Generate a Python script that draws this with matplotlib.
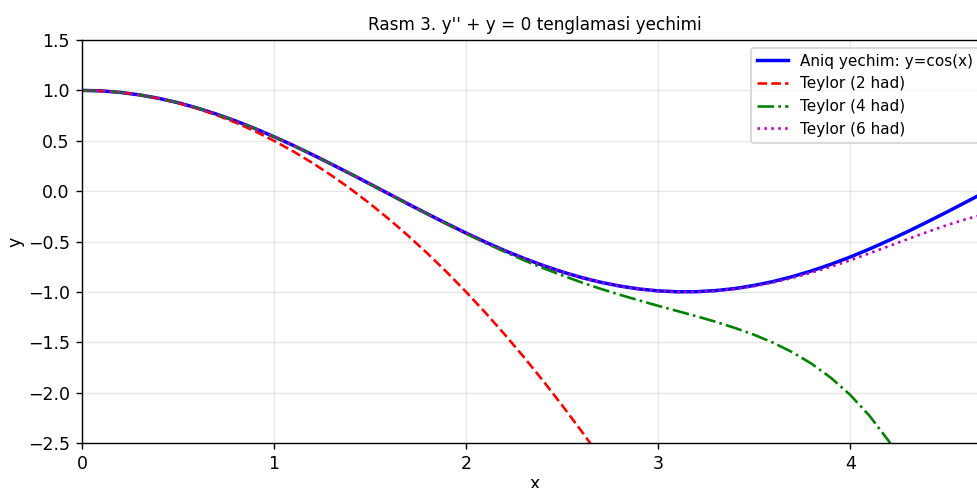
import numpy as np
import matplotlib.pyplot as plt

# x values (step 0.1) and curves
x_vals = [0.0, 0.1, 0.2, 0.3, 0.4, 0.5, 0.6, 0.7, 0.8, 0.9,
          1.0, 1.1, 1.2, 1.3, 1.4, 1.5, 1.6, 1.7, 1.8, 1.9,
          2.0, 2.1, 2.2, 2.3, 2.4, 2.5, 2.6, 2.7, 2.8, 2.9,
          3.0, 3.1, 3.2, 3.3, 3.4, 3.5, 3.6, 3.7, 3.8, 3.9,
          4.0, 4.1, 4.2, 4.3, 4.4, 4.5, 4.6, 4.7]

y_exact = [1.000, 0.995, 0.980, 0.955, 0.921, 0.878, 0.825, 0.765, 0.697, 0.622,
           0.540, 0.454, 0.362, 0.267, 0.170, 0.071, -0.029, -0.129, -0.227, -0.323,
           -0.416, -0.505, -0.589, -0.666, -0.737, -0.801, -0.857, -0.904, -0.942, -0.971,
           -0.990, -0.999, -0.998, -0.987, -0.967, -0.936, -0.897, -0.848, -0.791, -0.726,
           -0.654, -0.575, -0.490, -0.401, -0.307, -0.211, -0.112, -0.012]

y_taylor2 = [1.000, 0.995, 0.980, 0.955, 0.920, 0.875, 0.820, 0.755, 0.680, 0.595,
             0.500, 0.395, 0.280, 0.155, 0.020, -0.125, -0.280, -0.445, -0.620, -0.805,
             -1.000, -1.205, -1.420, -1.645, -1.880, -2.125, -2.380, -2.645]

y_taylor4 = [1.000, 0.995, 0.980, 0.955, 0.921, 0.878, 0.825, 0.765, 0.697, 0.622,
             0.540, 0.454, 0.362, 0.267, 0.170, 0.070, -0.030, -0.131, -0.230, -0.327,
             -0.422, -0.514, -0.601, -0.685, -0.763, -0.836, -0.905, -0.969, -1.028, -1.084,
             -1.138, -1.190, -1.242, -1.297, -1.358, -1.426, -1.505, -1.600, -1.714, -1.853,
             -2.022, -2.228, -2.478, -2.780]

y_taylor6 = [1.000, 0.995, 0.980, 0.955, 0.921, 0.878, 0.825, 0.765, 0.697, 0.622,
             0.540, 0.454, 0.362, 0.267, 0.170, 0.071, -0.029, -0.129, -0.227, -0.323,
             -0.416, -0.505, -0.589, -0.666, -0.737, -0.801, -0.857, -0.904, -0.943, -0.972,
             -0.991, -1.001, -1.001, -0.991, -0.971, -0.943, -0.906, -0.861, -0.808, -0.750,
             -0.686, -0.618, -0.547, -0.476, -0.406, -0.340, -0.280, -0.228]

fig = plt.figure(figsize=(977/125, 488/125), dpi=125)
ax = fig.add_axes([0.0839, 0.0922, 0.9263, 0.8258])

ax.plot(x_vals, y_exact, 'b-', lw=2, label='Aniq yechim: y=cos(x)')
ax.plot(x_vals[:len(y_taylor2)], y_taylor2, 'r--', lw=1.5, label='Teylor (2 had)')
ax.plot(x_vals[:len(y_taylor4)], y_taylor4, 'g-.', lw=1.5, label='Teylor (4 had)')
ax.plot(x_vals, y_taylor6, 'm:', lw=1.5, label='Teylor (6 had)')

ax.set_xlim(0, 3*np.pi/2)
ax.set_ylim(-2.5, 1.5)
ax.set_xlabel('x', labelpad=1)
ax.set_ylabel('y', labelpad=2)
ax.set_title("Rasm 3. y'' + y = 0 tenglamasi yechimi", fontsize=9.7)
ax.grid(True, alpha=0.3)
ax.legend(loc='upper right', fontsize=8.8)

fig.savefig('out.png', dpi=125)
